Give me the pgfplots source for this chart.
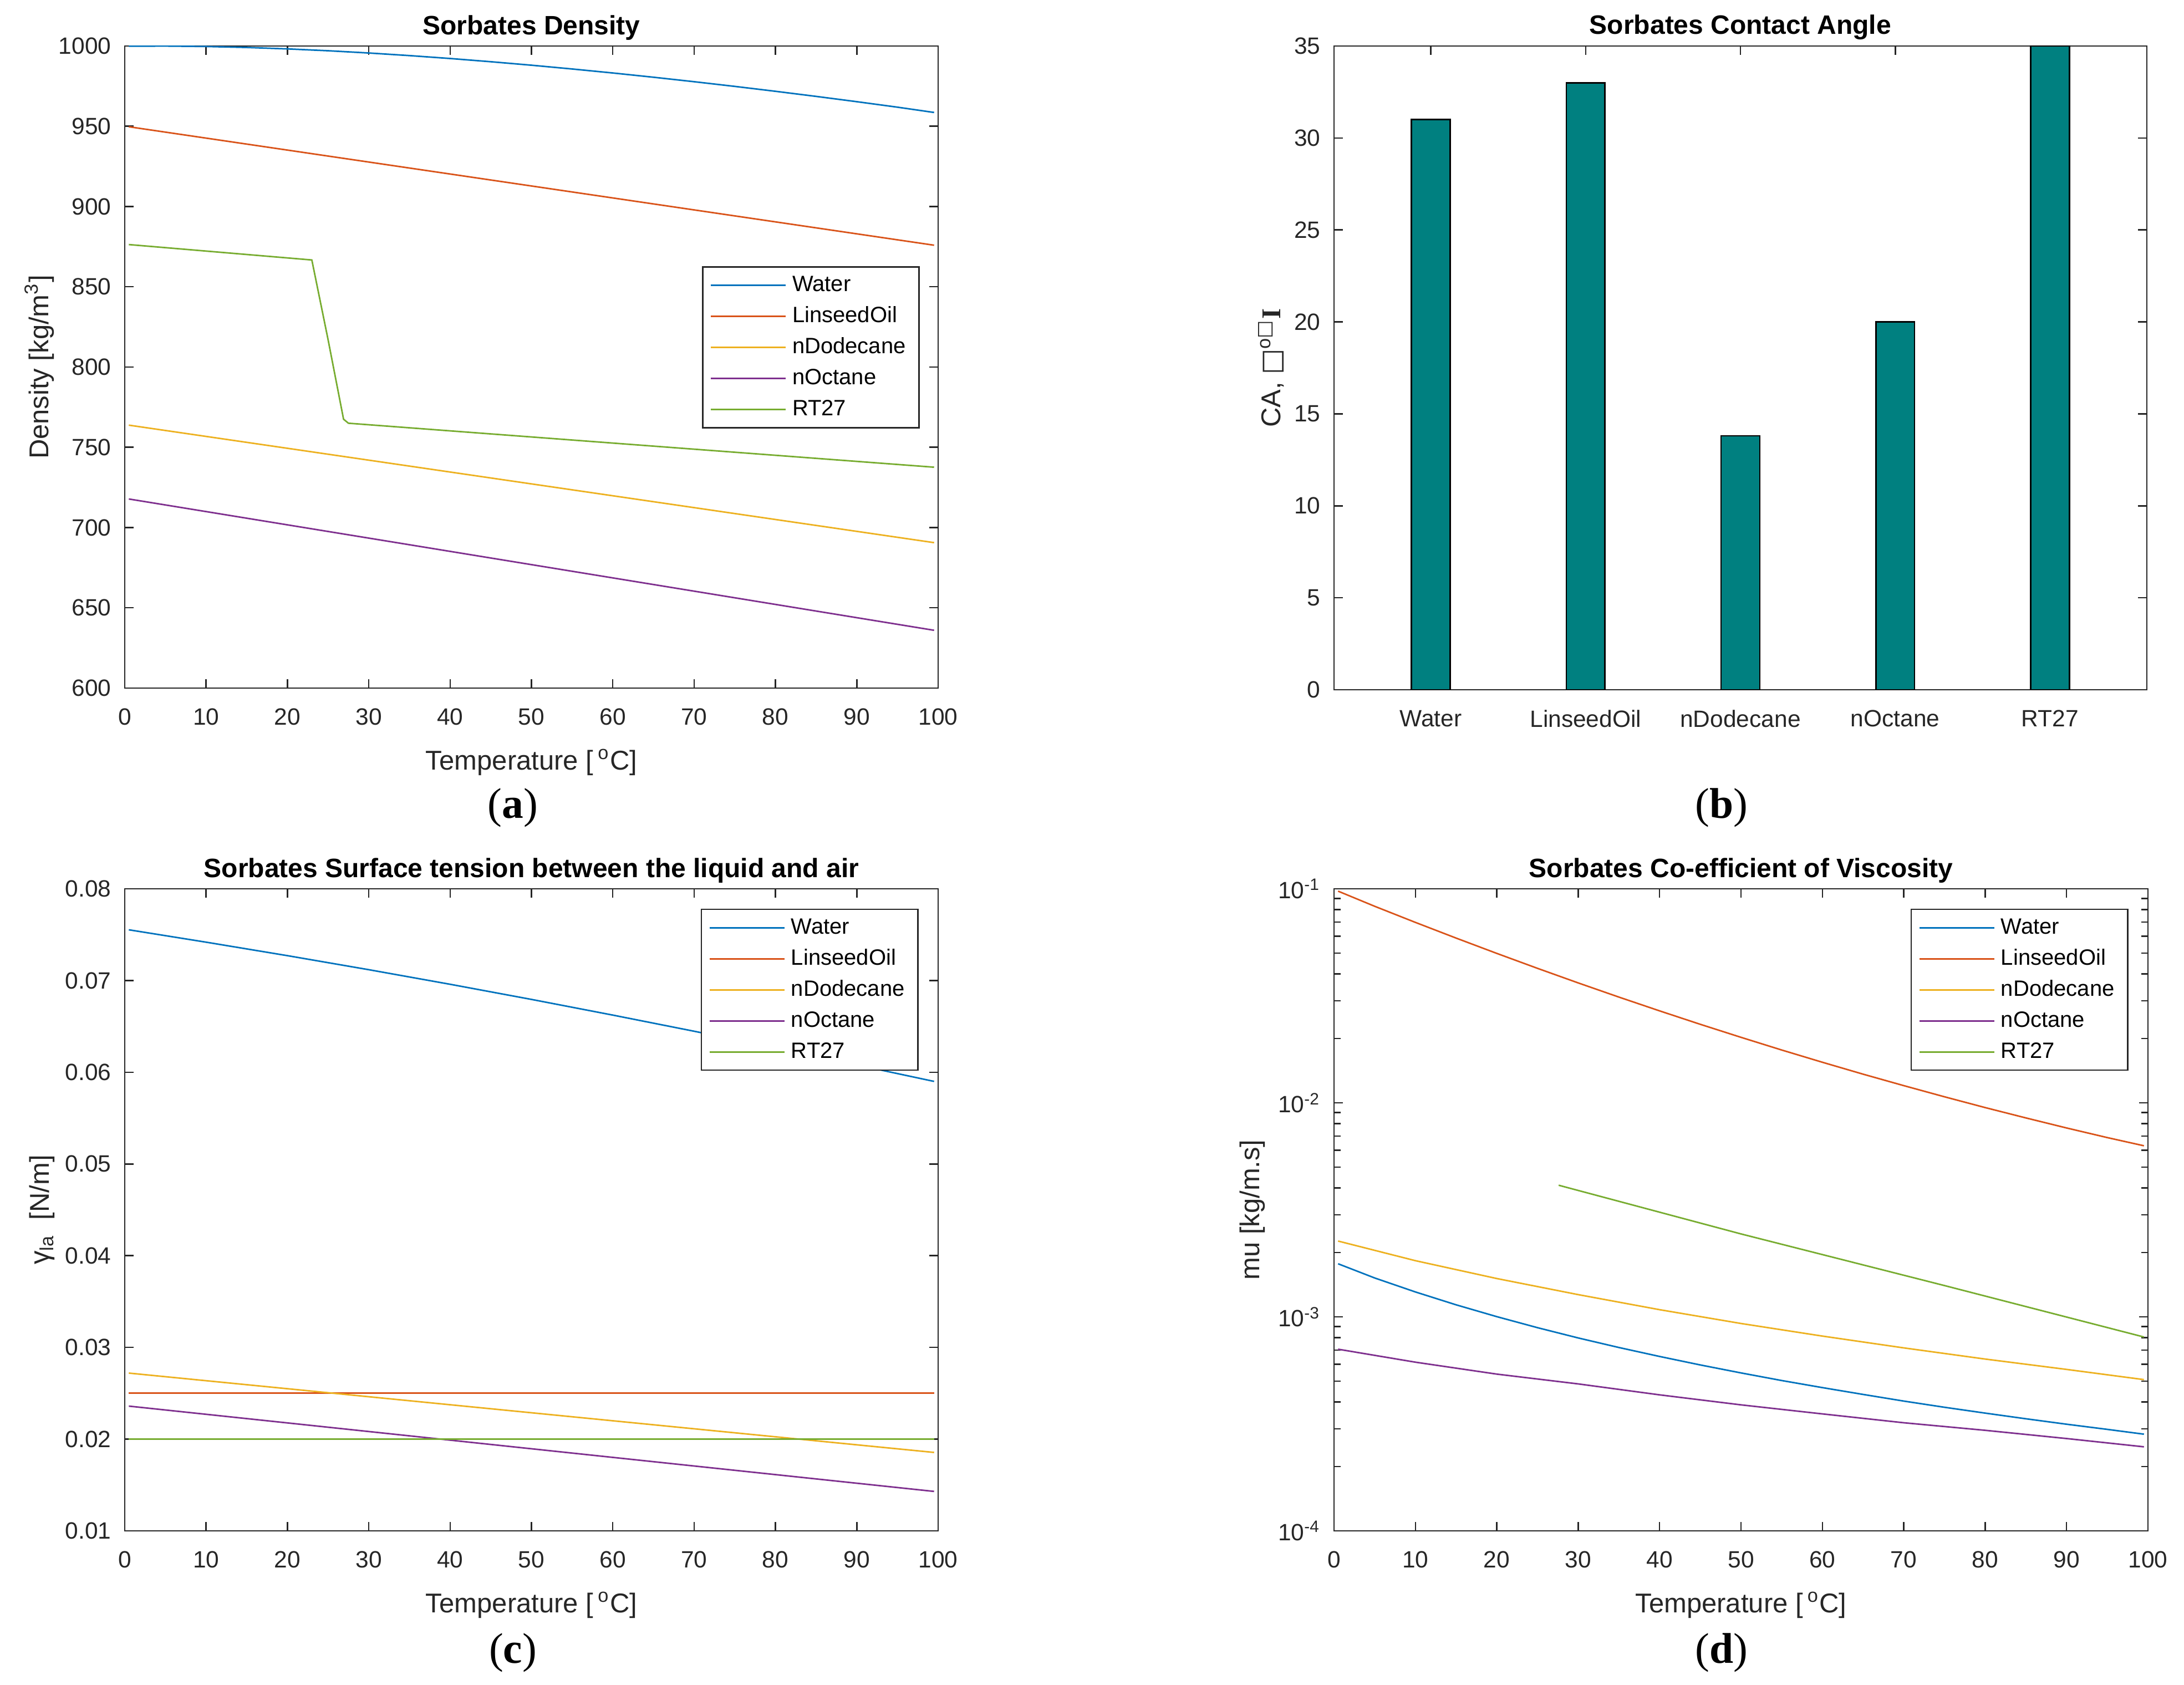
\documentclass[border=0pt]{standalone}
\usepackage{fontspec}
\setmainfont{Liberation Sans}
\newfontfamily\seriffont{Liberation Serif}
\newfontfamily\dejavu{DejaVu Sans}
\usepackage{pgfplots}
\pgfplotsset{compat=1.18}
\definecolor{mblue}{HTML}{0072BD}
\definecolor{mred}{HTML}{D95319}
\definecolor{myellow}{HTML}{EDB120}
\definecolor{mpurple}{HTML}{7E2F8E}
\definecolor{mgreen}{HTML}{77AC30}
\definecolor{axgray}{HTML}{262626}
\definecolor{tealc}{HTML}{008080}
\pgfplotsset{
  base/.style={
    scale only axis, anchor=south west,
    axis line style={draw=axgray, line width=0.5pt},
    every tick/.style={axgray, line width=0.5pt},
    tick align=inside, major tick length=3.2pt, minor tick length=2.4pt,
    tick pos=both,
    tick label style={font=\fontsize{8.5}{10}\selectfont, color=axgray},
    xticklabel style={yshift=-3.9pt},
    yticklabel style={xshift=-1.4pt},
    /pgf/number format/assume math mode=true,
    /pgf/number format/1000 sep={},
    xlabel style={font=\fontsize{9.8}{11}\selectfont, color=axgray, at={(axis description cs:0.5,-0.127)}, anchor=base},
    ylabel style={font=\fontsize{9.8}{11}\selectfont, color=axgray, anchor=base},
    title style={font=\fontsize{9.6}{11}\selectfont\bfseries, at={(axis description cs:0.5,1.0181)}, anchor=base, yshift=-6pt},
    legend style={font=\fontsize{8}{9.6}\selectfont, draw=axgray, line width=0.5pt, text=black,
      inner xsep=2.6pt, inner ysep=1pt, anchor=north east,
      nodes={inner xsep=2.2pt, inner ysep=1.85pt, text height=6pt, text depth=1.5pt}},
    legend cell align=left,
    legend image code/.code={\draw[##1] (0pt,0pt) -- (27pt,0pt);},
    every axis plot/.append style={line width=0.55pt},
  }
}
\begin{document}
\begin{tikzpicture}
\useasboundingbox (0,0) rectangle (787.8pt,607.8pt);
% ---------------- (a) density
\begin{axis}[base, at={(45pt,359.6pt)}, width=293.4pt, height=231.6pt,
  xmin=0, xmax=100, ymin=600, ymax=1000,
  xtick={0,10,...,100}, ytick={600,650,...,1000},
  title={Sorbates Density},
  xlabel={Temperature [\,\textsuperscript{o}C]},
  ylabel={Density [kg/m\textsuperscript{3}]},
  ylabel style={at={(axis description cs:-0.094,0.5)}},
  legend style={at={(0.9775,0.657)}}]
\addplot[mblue] coordinates {(0.5,999.9)(5,999.97)(10,999.7)(15,999.1)(20,998.2)(25,997.05)(30,995.65)(35,994.03)(40,992.22)(45,990.21)(50,988.04)(55,985.69)(60,983.2)(65,980.55)(70,977.76)(75,974.84)(80,971.79)(85,968.61)(90,965.31)(95,961.89)(99.5,958.6)};
\addplot[mred] coordinates {(0.5,949.7)(99.5,875.9)};
\addplot[myellow] coordinates {(0.5,763.8)(99.5,690.6)};
\addplot[mpurple] coordinates {(0.5,717.8)(99.5,636.0)};
\addplot[mgreen] coordinates {(0.5,876.3)(23,866.7)(25,817)(26.9,767.5)(27.5,765)(99.5,737.6)};
\legend{Water,LinseedOil,nDodecane,nOctane,RT27}
\end{axis}
% ---------------- (b) contact angle
\begin{axis}[base, at={(481.2pt,359.0pt)}, width=293.2pt, height=232.2pt,
  xmin=0.375, xmax=5.625, ymin=0, ymax=35,
  xtick={1,2,3,4,5}, xticklabels={Water,LinseedOil,nDodecane,nOctane,RT27},
  ytick={0,5,...,35},
  title={Sorbates Contact Angle},
  ylabel={CA, {\dejavu □}\textsuperscript{o{\dejavu □}}{\seriffont\bfseries I}},
  ylabel style={at={(axis description cs:-0.066,0.5)}}]
\addplot[ybar, bar width=0.25, fill=tealc, draw=black, line width=0.5pt] coordinates {(1,31)(2,33)(3,13.8)(4,20)(5,35)};
\end{axis}
% ---------------- (c) surface tension
\begin{axis}[base, at={(45pt,55.6pt)}, width=293.4pt, height=231.6pt,
  xmin=0, xmax=100, ymin=0.01, ymax=0.08,
  xtick={0,10,...,100}, ytick={0.01,0.02,0.03,0.04,0.05,0.06,0.07,0.08},
  yticklabel style={/pgf/number format/.cd, fixed, fixed zerofill, precision=2},
  scaled y ticks=false,
  title={Sorbates Surface tension between the liquid and air},
  xlabel={Temperature [\,\textsuperscript{o}C]},
  ylabel={γ\textsubscript{la}\ \ [N/m]},
  ylabel style={at={(axis description cs:-0.093,0.5)}},
  legend style={at={(0.976,0.969)}}]
\addplot[mblue] coordinates {(0.5,0.07553)(10,0.07418)(20,0.07271)(30,0.07118)(40,0.06959)(50,0.06794)(60,0.06623)(70,0.06447)(80,0.06266)(90,0.06080)(99.5,0.05900)};
\addplot[mred] coordinates {(0.5,0.025)(99.5,0.025)};
\addplot[myellow] coordinates {(0.5,0.0272)(99.5,0.01855)};
\addplot[mpurple] coordinates {(0.5,0.0236)(99.5,0.0143)};
\addplot[mgreen] coordinates {(0.5,0.020)(99.5,0.020)};
\legend{Water,LinseedOil,nDodecane,nOctane,RT27}
\end{axis}
% ---------------- (d) viscosity
\begin{axis}[base, at={(481.2pt,55.6pt)}, width=293.6pt, height=231.6pt,
  xmin=0, xmax=100, ymode=log, ymin=1e-4, ymax=1e-1,
  xtick={0,10,...,100},
  ytick={1e-4,1e-3,1e-2,1e-1},
  yticklabels={10\textsuperscript{-4},10\textsuperscript{-3},10\textsuperscript{-2},10\textsuperscript{-1}},
  minor ytick={2e-4,3e-4,4e-4,5e-4,6e-4,7e-4,8e-4,9e-4,2e-3,3e-3,4e-3,5e-3,6e-3,7e-3,8e-3,9e-3,2e-2,3e-2,4e-2,5e-2,6e-2,7e-2,8e-2,9e-2},
  title={Sorbates Co-efficient of Viscosity},
  xlabel={Temperature [\,\textsuperscript{o}C]},
  ylabel={mu [kg/m.s]},
  ylabel style={at={(axis description cs:-0.0916,0.5)}},
  legend style={at={(0.976,0.969)}}]
\addplot[mblue] coordinates {(0.5,1.77e-3)(5,1.519e-3)(10,1.307e-3)(15,1.138e-3)(20,1.002e-3)(25,0.890e-3)(30,0.797e-3)(35,0.719e-3)(40,0.653e-3)(45,0.596e-3)(50,0.547e-3)(55,0.504e-3)(60,0.467e-3)(65,0.434e-3)(70,0.404e-3)(75,0.378e-3)(80,0.355e-3)(85,0.334e-3)(90,0.315e-3)(95,0.298e-3)(99.5,0.283e-3)};
\addplot[mred] coordinates {(0.5,0.0975)(5,0.08283)(10,0.06966)(15,0.05884)(20,0.04990)(25,0.04249)(30,0.03633)(35,0.03119)(40,0.02689)(45,0.02327)(50,0.02023)(55,0.01765)(60,0.01547)(65,0.01361)(70,0.01203)(75,0.01067)(80,0.00950)(85,0.00850)(90,0.00763)(95,0.00688)(99.5,0.00630)};
\addplot[myellow] coordinates {(0.5,2.26e-3)(10,1.83e-3)(20,1.51e-3)(30,1.27e-3)(40,1.08e-3)(50,9.31e-4)(60,8.13e-4)(70,7.16e-4)(80,6.35e-4)(90,5.68e-4)(99.5,5.09e-4)};
\addplot[mpurple] coordinates {(0.5,7.06e-4)(10,6.14e-4)(20,5.4e-4)(30,4.86e-4)(40,4.32e-4)(50,3.88e-4)(60,3.52e-4)(70,3.2e-4)(80,2.95e-4)(90,2.7e-4)(99.5,2.47e-4)};
\addplot[mgreen] coordinates {(27.6,4.12e-3)(50,2.44e-3)(75,1.40e-3)(99.5,8.05e-4)};
\legend{Water,LinseedOil,nDodecane,nOctane,RT27}
\end{axis}
% panel letters
\node[anchor=base, font=\fontsize{15.5}{18}\selectfont\seriffont] at (185pt,312.6pt) {(\textbf{a})};
\node[anchor=base, font=\fontsize{15.5}{18}\selectfont\seriffont] at (621pt,312.6pt) {(\textbf{b})};
\node[anchor=base, font=\fontsize{15.5}{18}\selectfont\seriffont] at (185pt,7.8pt) {(\textbf{c})};
\node[anchor=base, font=\fontsize{15.5}{18}\selectfont\seriffont] at (621pt,7.8pt) {(\textbf{d})};
\end{tikzpicture}
\end{document}
